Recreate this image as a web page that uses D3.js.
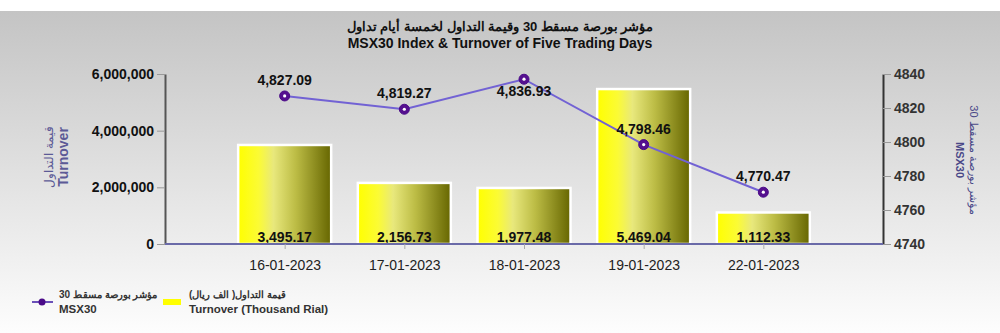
<!DOCTYPE html>
<html>
<head>
<meta charset="utf-8">
<script src="https://cdn.jsdelivr.net/npm/d3@7"></script>
<style>
  body { margin: 0; background: #fff; }
  svg { display: block; font-family: "Liberation Sans", Arial, sans-serif; }
</style>
</head>
<body>
<svg id="chart" width="1000" height="333"></svg>
<script>
// data
const dates = ["16-01-2023", "17-01-2023", "18-01-2023", "19-01-2023", "22-01-2023"];
const turnover = [3495170, 2156730, 1977480, 5469040, 1112330];
const msx30 = [4827.09, 4819.27, 4836.93, 4798.46, 4770.47];
const leftTicks = [0, 2000000, 4000000, 6000000];
const rightTicks = [4740, 4760, 4780, 4800, 4820, 4840];

const svg = d3.select("#chart");
const W = 1000, H = 333;
const plotL = 165, plotR = 883, plotT = 74, plotB = 244;

const defs = svg.append("defs");
const bg = defs.append("linearGradient").attr("id", "bg").attr("x1", 0).attr("y1", 0).attr("x2", 0).attr("y2", 1);
bg.append("stop").attr("offset", 0).attr("stop-color", "#c4c4c4");
bg.append("stop").attr("offset", 1).attr("stop-color", "#fdfdfd");

const barGrad = defs.append("linearGradient").attr("id", "barGrad").attr("x1", 0).attr("y1", 0).attr("x2", 1).attr("y2", 0);
[[0, "#ffff00"], [0.22, "#fbfb35"], [0.38, "#e8e87c"], [0.62, "#bcbc45"], [1, "#666600"]]
  .forEach(s => barGrad.append("stop").attr("offset", s[0]).attr("stop-color", s[1]));

svg.append("rect").attr("x", 0).attr("y", 0).attr("width", W).attr("height", H).attr("fill", "#fff");
svg.append("rect").attr("x", 0).attr("y", 11).attr("width", W).attr("height", H - 11).attr("fill", "url(#bg)");

// title
svg.append("text").attr("x", 500).attr("y", 31).attr("text-anchor", "middle")
  .attr("font-size", 13).attr("font-weight", "bold").attr("fill", "#111")
  .text("مؤشر بورصة مسقط 30 وقيمة التداول لخمسة أيام تداول");
svg.append("text").attr("x", 500).attr("y", 48).attr("text-anchor", "middle")
  .attr("font-size", 14).attr("font-weight", "bold").attr("fill", "#111")
  .text("MSX30 Index & Turnover of Five Trading Days");

// scales
const x = d3.scalePoint().domain(dates).range([plotL, plotR]).padding(1);
const yL = d3.scaleLinear().domain([0, 6000000]).range([plotB, plotT]);
const yR = d3.scaleLinear().domain([4740, 4840]).range([plotB, plotT]);

// left axis
const axL = svg.append("g").attr("transform", `translate(${plotL},0)`)
  .call(d3.axisLeft(yL).tickValues(leftTicks).tickFormat(d3.format(",")).tickSize(8).tickSizeOuter(0));
axL.select(".domain").attr("stroke", "#555").attr("stroke-width", 2);
axL.selectAll(".tick line").attr("stroke", "#999");
axL.selectAll(".tick text").attr("font-size", 14).attr("font-weight", "bold").attr("fill", "#111")
  .attr("font-family", "Liberation Sans, Arial, sans-serif");

// right axis
const axR = svg.append("g").attr("transform", `translate(${plotR},0)`)
  .call(d3.axisRight(yR).tickValues(rightTicks).tickFormat(d3.format("d")).tickSize(8).tickSizeOuter(0));
axR.select(".domain").attr("stroke", "#333").attr("stroke-width", 2);
axR.selectAll(".tick line").attr("stroke", "#999");
axR.selectAll(".tick text").attr("font-size", 14).attr("font-weight", "bold").attr("fill", "#333")
  .attr("font-family", "Liberation Sans, Arial, sans-serif");

// bars
const bw = 93;
svg.append("g").selectAll("rect").data(turnover).join("rect")
  .attr("x", (d, i) => x(dates[i]) - bw / 2)
  .attr("y", d => yL(d))
  .attr("width", bw)
  .attr("height", d => plotB - yL(d))
  .attr("fill", "url(#barGrad)")
  .attr("stroke", "#fff").attr("stroke-width", 2.5);

svg.append("g").selectAll("text").data(turnover).join("text")
  .attr("x", (d, i) => x(dates[i]))
  .attr("y", plotB - 2)
  .attr("text-anchor", "middle")
  .attr("font-size", 14).attr("font-weight", "bold").attr("fill", "#111")
  .text(d => d3.format(",.2f")(d / 1000));

// x axis
const axX = svg.append("g").attr("transform", `translate(0,${plotB})`)
  .call(d3.axisBottom(x).tickSize(5).tickSizeOuter(0));
axX.select(".domain").attr("stroke", "#6a6aa8").attr("stroke-width", 2)
  .attr("d", `M${plotL},0H${plotR}`);
axX.selectAll(".tick line").attr("stroke", "#aaa");
axX.selectAll(".tick text").attr("font-size", 14).attr("fill", "#222").attr("dy", "1.25em")
  .attr("font-family", "Liberation Sans, Arial, sans-serif");

// line
const line = d3.line().x((d, i) => x(dates[i])).y(d => yR(d));
svg.append("path").datum(msx30).attr("d", line)
  .attr("fill", "none").attr("stroke", "#7262d4").attr("stroke-width", 2);
const pts = svg.append("g").selectAll("g").data(msx30).join("g")
  .attr("transform", (d, i) => `translate(${x(dates[i])},${yR(d)})`);
pts.append("circle").attr("r", 5).attr("fill", "#55108f").attr("stroke", "#4a0a88").attr("stroke-width", 1);
pts.append("circle").attr("r", 1.6).attr("fill", "#fff");

svg.append("g").selectAll("text").data(msx30).join("text")
  .attr("x", (d, i) => x(dates[i]))
  .attr("y", d => (yR(d) - 21 < plotT ? yR(d) + 17 : yR(d) - 11))
  .attr("text-anchor", "middle")
  .attr("font-size", 14).attr("font-weight", "bold").attr("fill", "#111")
  .text(d => d3.format(",.2f")(d));

// axis titles
const lt = svg.append("text").attr("transform", "translate(59,157) rotate(-90)")
  .attr("text-anchor", "middle").attr("fill", "#5c5a96");
lt.append("tspan").attr("x", 0).attr("dy", -6).attr("font-size", 12).text("قيمة التداول");
lt.append("tspan").attr("x", 0).attr("dy", 15).attr("font-size", 14).attr("font-weight", "bold").text("Turnover");

const rt = svg.append("text").attr("transform", "translate(966,160) rotate(90)")
  .attr("text-anchor", "middle").attr("fill", "#4a4888");
rt.append("tspan").attr("x", 0).attr("dy", -4).attr("font-size", 11).text("مؤشر بورصة مسقط 30");
rt.append("tspan").attr("x", 0).attr("dy", 14).attr("font-size", 11).attr("font-weight", "bold").text("MSX30");

// legend
const lg = svg.append("g");
lg.append("line").attr("x1", 32).attr("x2", 53).attr("y1", 302).attr("y2", 302)
  .attr("stroke", "#6a50b8").attr("stroke-width", 2);
lg.append("circle").attr("cx", 42).attr("cy", 302).attr("r", 3.5).attr("fill", "#4a0a88");
lg.append("text").attr("x", 59).attr("y", 298).attr("font-size", 10).attr("font-weight", "bold").attr("fill", "#333")
  .text("مؤشر بورصة مسقط 30");
lg.append("text").attr("x", 59).attr("y", 313).attr("font-size", 11.5).attr("font-weight", "bold").attr("fill", "#333")
  .text("MSX30");
lg.append("rect").attr("x", 163).attr("y", 299).attr("width", 18).attr("height", 6).attr("fill", "#ffff00");
lg.append("text").attr("x", 189).attr("y", 298).attr("font-size", 10).attr("font-weight", "bold").attr("fill", "#333")
  .text("قيمة التداول( الف ريال)");
lg.append("text").attr("x", 189).attr("y", 313).attr("font-size", 11.5).attr("font-weight", "bold").attr("fill", "#333")
  .text("Turnover (Thousand Rial)");
</script>
</body>
</html>
